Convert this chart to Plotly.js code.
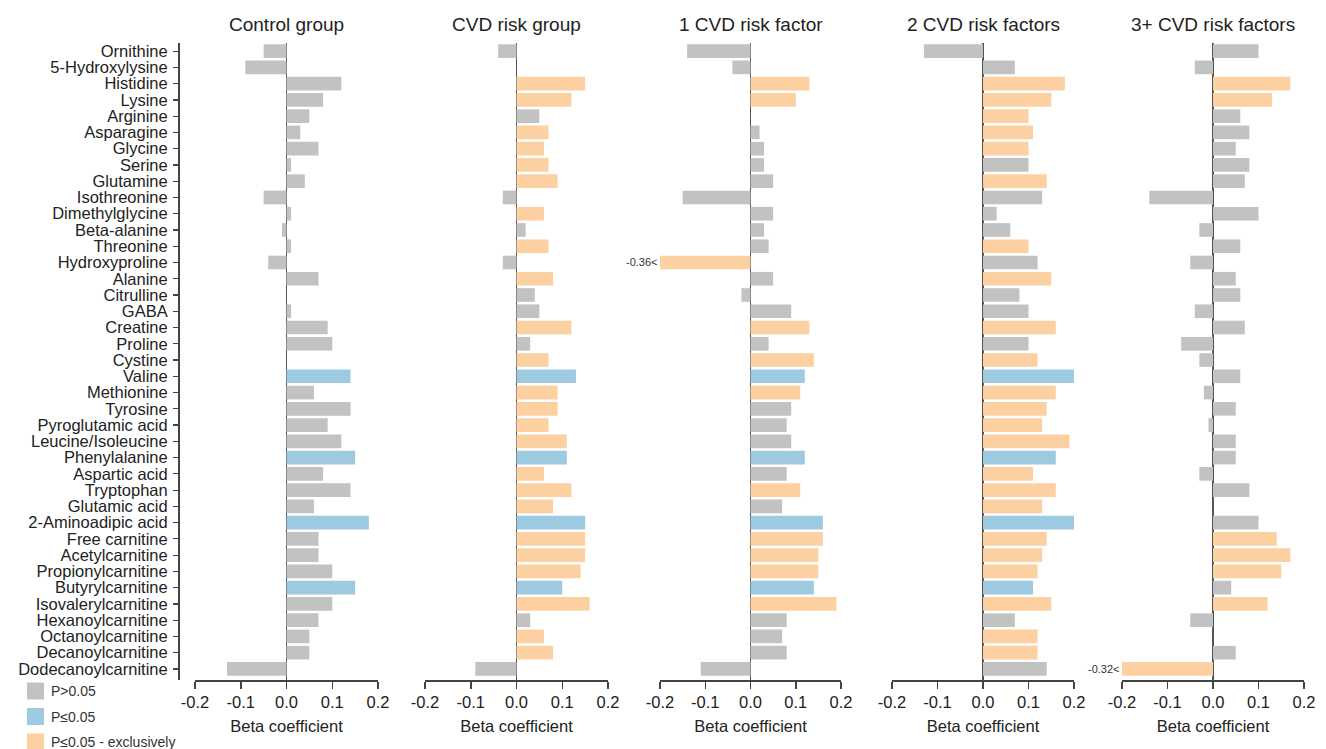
<!DOCTYPE html>
<html><head><meta charset="utf-8">
<script src="https://cdn.plot.ly/plotly-3.0.1.min.js"></script>
<style>html,body{margin:0;padding:0;background:#fff}#chart{width:1326px;height:749px}</style>
</head><body><div id="chart"></div>
<script>
const categories = ['Ornithine','5-Hydroxylysine','Histidine','Lysine','Arginine','Asparagine','Glycine','Serine','Glutamine','Isothreonine','Dimethylglycine','Beta-alanine','Threonine','Hydroxyproline','Alanine','Citrulline','GABA','Creatine','Proline','Cystine','Valine','Methionine','Tyrosine','Pyroglutamic acid','Leucine/Isoleucine','Phenylalanine','Aspartic acid','Tryptophan','Glutamic acid','2-Aminoadipic acid','Free carnitine','Acetylcarnitine','Propionylcarnitine','Butyrylcarnitine','Isovalerylcarnitine','Hexanoylcarnitine','Octanoylcarnitine','Decanoylcarnitine','Dodecanoylcarnitine'];

const panelTitles = ['Control group','CVD risk group','1 CVD risk factor','2 CVD risk factors','3+ CVD risk factors'];

const controlValues = [-0.05,-0.09,0.12,0.08,0.05,0.03,0.07,0.01,0.04,-0.05,0.01,-0.01,0.01,-0.04,0.07,0,0.01,0.09,0.10,0,0.14,0.06,0.14,0.09,0.12,0.15,0.08,0.14,0.06,0.18,0.07,0.07,0.10,0.15,0.10,0.07,0.05,0.05,-0.13];
const controlSig = 'nnnnnnnnnnnnnnnnnnnnbnnnnbnnnbnnnbnnnnn';

const cvdRiskValues = [-0.04,0,0.15,0.12,0.05,0.07,0.06,0.07,0.09,-0.03,0.06,0.02,0.07,-0.03,0.08,0.04,0.05,0.12,0.03,0.07,0.13,0.09,0.09,0.07,0.11,0.11,0.06,0.12,0.08,0.15,0.15,0.15,0.14,0.10,0.16,0.03,0.06,0.08,-0.09];
const cvdRiskSig = 'nnoonoooon' + 'onononnono' + 'boooobooob' + 'ooobonoon';

const oneFactorValues = [-0.14,-0.04,0.13,0.10,0,0.02,0.03,0.03,0.05,-0.15,0.05,0.03,0.04,-0.36,0.05,-0.02,0.09,0.13,0.04,0.14,0.12,0.11,0.09,0.08,0.09,0.12,0.08,0.11,0.07,0.16,0.16,0.15,0.15,0.14,0.19,0.08,0.07,0.08,-0.11];
const oneFactorSig = 'nnoonnnnnn' + 'nnnonnnono' + 'bonnnbnonb' + 'ooobonnnn';

const twoFactorValues = [-0.13,0.07,0.18,0.15,0.10,0.11,0.10,0.10,0.14,0.13,0.03,0.06,0.10,0.12,0.15,0.08,0.10,0.16,0.10,0.12,0.20,0.16,0.14,0.13,0.19,0.16,0.11,0.16,0.13,0.20,0.14,0.13,0.12,0.11,0.15,0.07,0.12,0.12,0.14];
const twoFactorSig = 'nnooooonon' + 'nnononnono' + 'boooobooob' + 'ooobonoon';

const threeFactorValues = [0.10,-0.04,0.17,0.13,0.06,0.08,0.05,0.08,0.07,-0.14,0.10,-0.03,0.06,-0.05,0.05,0.06,-0.04,0.07,-0.07,-0.03,0.06,-0.02,0.05,-0.01,0.05,0.05,-0.03,0.08,0,0.10,0.14,0.17,0.15,0.04,0.12,-0.05,0,0.05,-0.32];
const threeFactorSig = 'nnoonnnnnn' + 'nnnnnnnnnn' + 'nnnnnnnnnn' + 'ooononnno';

const tickValues = [-0.2,-0.1,0,0.1,0.2];
const tickLabels = ['-0.2','-0.1','0.0','0.1','0.2'];
const legendLabels = ['P>0.05','P≤0.05','P≤0.05 - exclusively'];
const legendCodes = ['n','b','o'];

const panelValues = [controlValues,cvdRiskValues,oneFactorValues,twoFactorValues,threeFactorValues];
const panelSig = [controlSig,cvdRiskSig,oneFactorSig,twoFactorSig,threeFactorSig];

const colorMap = {n:'#c2c2c2', b:'#9ecae1', o:'#fdd0a2'};
const W = 1326, H = 749;
const FONT = '"Liberation Sans", Arial, sans-serif';
const TXT = '#222';
const panelPx = [[195,378],[425,608],[660,841],[892,1074],[1122,1304]];
const plotTop = 43, plotBottom = 680;
const yDom = [(H-plotBottom)/H, (H-plotTop)/H];
const xMin = tickValues[0], xMax = tickValues[tickValues.length-1];

const data = [];
const layout = {
  width: W, height: H,
  margin: {l:0, r:0, t:0, b:0},
  paper_bgcolor: '#fff', plot_bgcolor: 'rgba(0,0,0,0)',
  showlegend: false,
  font: {family: FONT, color: TXT, size: 14},
  bargap: 0.16,
  annotations: [], shapes: [],
  yaxis: {
    domain: yDom,
    anchor: 'free', position: 178/W,
    type: 'category',
    categoryorder: 'array', categoryarray: categories,
    range: [categories.length - 1 + 0.68, -0.5],
    tickmode: 'array', tickvals: categories, ticktext: categories,
    showline: true, linecolor: '#444', linewidth: 1.5,
    ticks: 'outside', ticklen: 5, tickcolor: '#444', tickwidth: 1.2,
    tickfont: {family: FONT, size: 16.5, color: TXT},
    ticklabelstandoff: 2,
    showgrid: false, zeroline: false, fixedrange: true
  }
};

panelValues.forEach((vals, i) => {
  const ax = i === 0 ? 'x' : 'x' + (i + 1);
  const axKey = i === 0 ? 'xaxis' : 'xaxis' + (i + 1);
  data.push({
    type: 'bar', orientation: 'h',
    x: vals, y: categories,
    xaxis: ax, yaxis: 'y',
    marker: {color: panelSig[i].split('').map(c => colorMap[c]), line: {width: 0}},
    hoverinfo: 'x+y'
  });
  layout[axKey] = {
    domain: [panelPx[i][0]/W, panelPx[i][1]/W],
    anchor: 'y',
    range: [xMin, xMax],
    tickvals: tickValues, ticktext: tickLabels,
    showline: true, linecolor: '#444', linewidth: 1.5,
    ticks: 'outside', ticklen: 7, tickcolor: '#444', tickwidth: 1.5,
    tickfont: {family: FONT, size: 16.5, color: TXT},
    showgrid: false,
    zeroline: true, zerolinecolor: '#555', zerolinewidth: 1.5,
    title: {text: 'Beta coefficient', font: {family: FONT, size: 16.5, color: TXT}, standoff: 10},
    fixedrange: true
  };
  layout.annotations.push({
    text: panelTitles[i], xref: ax, x: 0, yref: 'paper', y: (H-24)/H,
    xanchor: 'center', yanchor: 'middle', showarrow: false,
    font: {family: FONT, size: 19, color: TXT}
  });
  vals.forEach((v, k) => {
    if (v < xMin) {
      layout.annotations.push({
        text: v.toFixed(2) + '<', xref: ax, x: xMin, yref: 'y', y: categories[k],
        xanchor: 'right', yanchor: 'middle', showarrow: false,
        font: {family: FONT, size: 11, color: '#333'}
      });
    }
  });
});

legendLabels.forEach((lab, j) => {
  const cy = 691 + j * 25.5;
  layout.shapes.push({
    type: 'rect', xref: 'paper', yref: 'paper',
    x0: 27/W, x1: 44/W, y0: (H - cy - 8.5)/H, y1: (H - cy + 8.5)/H,
    fillcolor: colorMap[legendCodes[j]], line: {width: 0}
  });
  layout.annotations.push({
    text: lab, xref: 'paper', yref: 'paper', x: 49/W, y: (H - cy)/H,
    xanchor: 'left', yanchor: 'middle', showarrow: false,
    font: {family: FONT, size: 14, color: '#333'}
  });
});

Plotly.newPlot('chart', data, layout, {displayModeBar: false, staticPlot: true});
</script>
</body></html>
